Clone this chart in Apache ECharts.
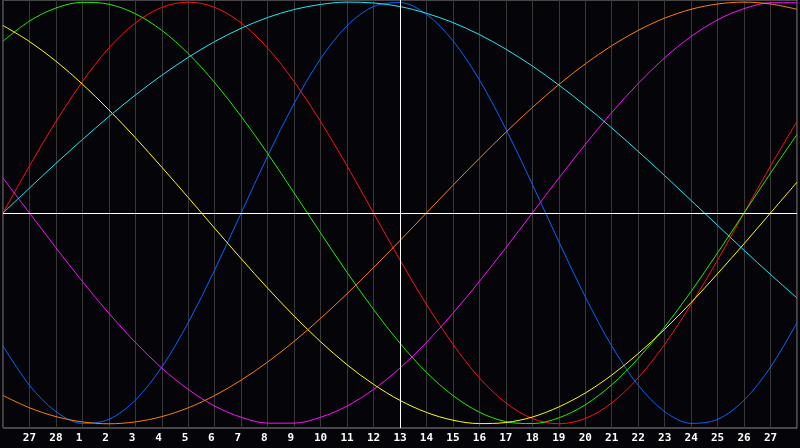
<!DOCTYPE html>
<html>
<head>
<meta charset="utf-8">
<script src="https://cdn.jsdelivr.net/npm/echarts@6/dist/echarts.min.js"></script>
<style>
html,body{margin:0;padding:0;background:#050409;}
#chart{width:800px;height:448px;}
</style>
</head>
<body>
<div id="chart"></div>
<script>
// Day labels: Feb 26 .. Mar 28 (index 0..30)
var dayLabels = ['26','27','28','1','2','3','4','5','6','7','8','9','10','11','12','13','14','15','16','17','18','19','20','21','22','23','24','25','26','27','28'];
var todayIndex = 15; // "13"

// Cycle values (percent), one per day
var physical = [-63.1,-81.7,-94.2,-99.8,-97.9,-88.8,-73.1,-52.0,-27.0,0,27.0,52.0,73.1,88.8,97.9,99.8,94.2,81.7,63.1,39.8,13.6,-13.6,-39.8,-63.1,-81.7,-94.2,-99.8,-97.9,-88.8,-73.1,-52.0];
var emotional = [0,22.3,43.4,62.3,78.2,90.1,97.5,100,97.5,90.1,78.2,62.3,43.4,22.3,0,-22.3,-43.4,-62.3,-78.2,-90.1,-97.5,-100,-97.5,-90.1,-78.2,-62.3,-43.4,-22.3,0,22.3,43.4];
var intellectual = [81.5,91.0,97.2,99.9,99.0,94.5,86.6,75.6,61.8,45.8,28.2,9.5,-9.5,-28.2,-45.8,-61.8,-75.6,-86.6,-94.5,-99.0,-99.9,-97.2,-91.0,-81.5,-69.0,-54.1,-37.2,-18.9,0,18.9,37.2];
var intuitive = [16.5,0,-16.5,-32.5,-47.6,-61.4,-73.6,-83.7,-91.6,-96.9,-99.7,-99.7,-96.9,-91.6,-83.7,-73.6,-61.4,-47.6,-32.5,-16.5,0,16.5,32.5,47.6,61.4,73.6,83.7,91.6,96.9,99.7,99.7];
var aesthetic = [88.9,81.3,72.0,61.1,48.9,35.7,21.7,7.3,-7.3,-21.7,-35.7,-48.9,-61.1,-72.0,-81.3,-88.9,-94.6,-98.3,-99.9,-99.4,-96.8,-92.0,-85.4,-76.9,-66.7,-55.2,-42.5,-28.8,-14.6,0,14.6];
var awareness = [-86.6,-92.4,-96.6,-99.1,-100,-99.1,-96.6,-92.4,-86.6,-79.3,-70.7,-60.9,-50,-38.3,-25.9,-13.1,0,13.1,25.9,38.3,50,60.9,70.7,79.3,86.6,92.4,96.6,99.1,100,99.1,96.6];
var spiritual = [0,11.8,23.5,34.8,45.7,55.9,65.3,73.8,81.3,87.6,92.7,96.5,98.9,100.0,99.6,97.9,94.7,90.3,84.6,77.7,69.7,60.7,50.9,40.3,29.2,17.7,5.9,-5.9,-17.7,-29.2,-40.3];

function pairs(arr){ return arr.map(function(v,i){ return [i,v]; }); }

var seriesDefs = [
  {name:'Physical', data:physical, color:'#0a64ff'},
  {name:'Emotional', data:emotional, color:'#ff1010'},
  {name:'Intellectual', data:intellectual, color:'#22ee00'},
  {name:'Intuitive', data:intuitive, color:'#ff10ff'},
  {name:'Aesthetic', data:aesthetic, color:'#ffff00'},
  {name:'Awareness', data:awareness, color:'#ff8000'},
  {name:'Spiritual', data:spiritual, color:'#20e8f0'}
];

var chart = echarts.init(document.getElementById('chart'), null, {renderer:'canvas'});

var series = seriesDefs.map(function(s){
  return {
    name:s.name, type:'line', data:pairs(s.data), smooth:0.33, symbol:'none',
    lineStyle:{color:s.color, width:1}, itemStyle:{color:s.color}, z:3,
    emphasis:{disabled:true}, silent:true
  };
});

series.push({
  type:'line', data:[], silent:true, z:4,
  markLine:{
    silent:true, symbol:'none', label:{show:false},
    lineStyle:{color:'#ffffff', width:1, type:'solid'},
    data:[{xAxis:todayIndex},{yAxis:0}]
  }
});

chart.setOption({
  backgroundColor:'#050409',
  animation:false,
  grid:{left:0, right:1, top:0, bottom:20, show:true, borderColor:'#8a8a8a', borderWidth:1, backgroundColor:'transparent'},
  xAxis:{
    type:'value', min:0, max:30, interval:1,
    axisLine:{show:false}, axisTick:{show:false},
    splitLine:{show:true, lineStyle:{color:'#383838', width:1}},
    axisLabel:{
      color:'#ffffff', fontFamily:'DejaVu Sans Mono', fontWeight:'bold', fontSize:11, margin:5,
      formatter:function(v){
        if(v<=0 || v>=30) return '';
        var t = dayLabels[v];
        return t.length<2 ? t+' ' : t;
      }
    }
  },
  yAxis:{
    type:'value', min:-102, max:101,
    show:true, axisLine:{show:false}, axisTick:{show:false}, axisLabel:{show:false},
    splitLine:{show:false}
  },
  series:series
});
</script>
</body>
</html>
